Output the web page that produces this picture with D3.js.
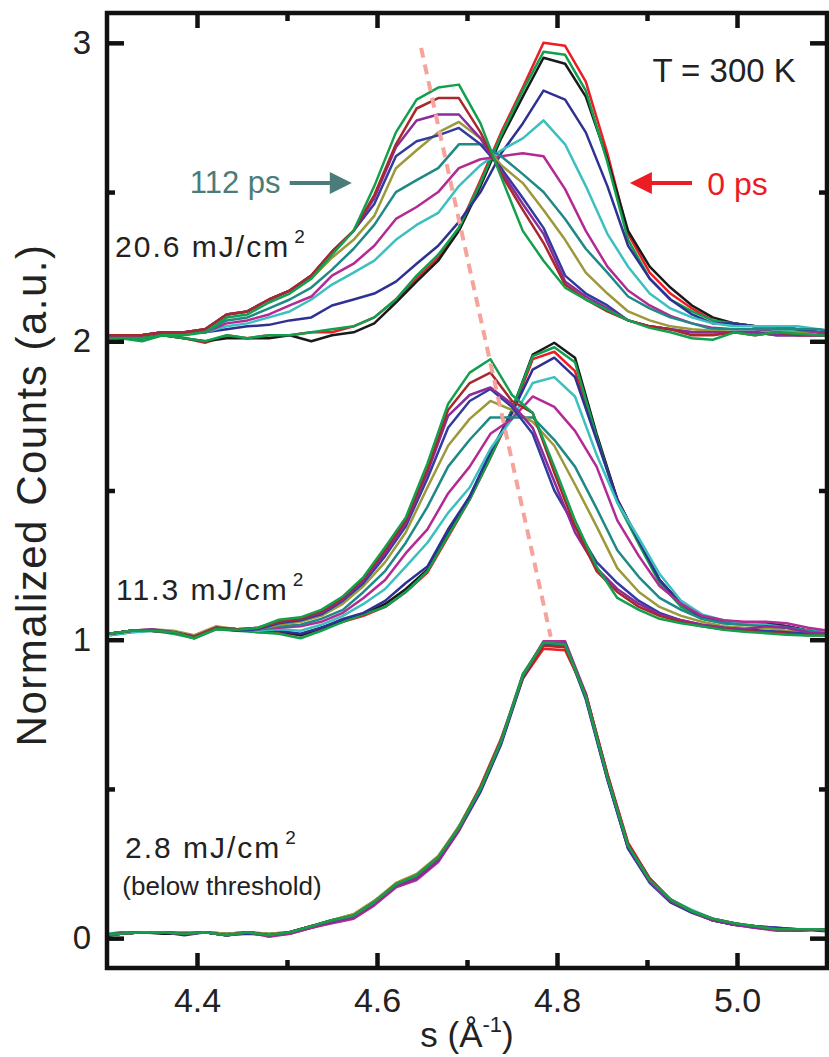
<!DOCTYPE html>
<html>
<head>
<meta charset="utf-8">
<script src="https://cdn.jsdelivr.net/npm/d3@7"></script>
<style>
  body { margin: 0; background: #fff; }
  text { font-family: "Liberation Sans", Arial, sans-serif; fill: #222; }
</style>
</head>
<body>
<div id="chart"></div>
<script>
"use strict";

// == DATA ==
// scattering vector grids (A^-1)
var sHigh = [4.292, 4.315, 4.339, 4.362, 4.386, 4.409, 4.433, 4.456, 4.480, 4.503, 4.527, 4.550, 4.574, 4.597, 4.621, 4.644, 4.668, 4.691,
             4.715, 4.738, 4.762, 4.785, 4.809, 4.832, 4.856, 4.879, 4.903, 4.926, 4.950, 4.973, 4.997, 5.020, 5.044, 5.067, 5.091, 5.114];
var sMid = [4.303, 4.327, 4.350, 4.374, 4.397, 4.421, 4.444, 4.468, 4.491, 4.515, 4.538, 4.562, 4.585, 4.609, 4.632, 4.656, 4.679, 4.703,
            4.726, 4.750, 4.773, 4.797, 4.820, 4.844, 4.867, 4.891, 4.914, 4.938, 4.961, 4.985, 5.008, 5.032, 5.055, 5.079, 5.102];
var sLow = sHigh;

// one colour per delay, 0 ps first, 112 ps last
var lineColors = ["#ee1c25", "#1a1a1a", "#0f9f4f", "#2e3192", "#3cbfbf", "#b22a92",
                  "#1f8986", "#9d983a", "#323c9e", "#8c2b9c", "#a8282c", "#12a04c"];

// 20.6 mJ/cm2, offset +2
var high = [
  [2.02, 2.01, 2.01, 2.02, 2.01, 1.995, 2.02, 2.01, 2.02, 2.02, 2.03, 2.03, 2.05, 2.08, 2.14, 2.21, 2.28, 2.38, 2.54, 2.70, 2.85, 3.00, 2.99, 2.87, 2.63, 2.36, 2.23, 2.16, 2.11, 2.07, 2.06, 2.05, 2.05, 2.04, 2.03, 2.03],
  [2.02, 2.01, 2.01, 2.02, 2.01, 2.00, 2.01, 2.01, 2.01, 2.02, 2.00, 2.02, 2.03, 2.06, 2.13, 2.20, 2.27, 2.37, 2.52, 2.68, 2.82, 2.95, 2.93, 2.82, 2.61, 2.37, 2.25, 2.18, 2.12, 2.08, 2.06, 2.05, 2.05, 2.04, 2.03, 2.03],
  [2.01, 2.01, 2.00, 2.02, 2.01, 2.00, 2.02, 2.01, 2.02, 2.02, 2.03, 2.04, 2.05, 2.08, 2.14, 2.22, 2.29, 2.38, 2.53, 2.69, 2.84, 2.97, 2.96, 2.84, 2.60, 2.34, 2.21, 2.14, 2.10, 2.07, 2.06, 2.05, 2.04, 2.04, 2.03, 2.03],
  [2.02, 2.02, 2.02, 2.03, 2.03, 2.03, 2.04, 2.05, 2.055, 2.07, 2.08, 2.12, 2.14, 2.16, 2.20, 2.26, 2.32, 2.40, 2.50, 2.63, 2.73, 2.84, 2.81, 2.70, 2.52, 2.32, 2.21, 2.14, 2.09, 2.06, 2.06, 2.05, 2.05, 2.04, 2.03, 2.03],
  [2.02, 2.02, 2.02, 2.03, 2.03, 2.03, 2.05, 2.06, 2.08, 2.10, 2.14, 2.19, 2.23, 2.27, 2.34, 2.39, 2.43, 2.52, 2.59, 2.64, 2.68, 2.74, 2.66, 2.52, 2.36, 2.25, 2.16, 2.11, 2.08, 2.06, 2.05, 2.05, 2.05, 2.05, 2.04, 2.03],
  [2.02, 2.02, 2.02, 2.03, 2.03, 2.03, 2.06, 2.07, 2.09, 2.12, 2.15, 2.22, 2.26, 2.32, 2.41, 2.45, 2.50, 2.58, 2.61, 2.62, 2.63, 2.62, 2.51, 2.37, 2.25, 2.17, 2.12, 2.085, 2.06, 2.045, 2.04, 2.04, 2.03, 2.03, 2.03, 2.02],
  [2.02, 2.02, 2.02, 2.03, 2.03, 2.03, 2.07, 2.08, 2.11, 2.14, 2.18, 2.24, 2.31, 2.39, 2.50, 2.54, 2.58, 2.66, 2.66, 2.62, 2.56, 2.50, 2.41, 2.31, 2.23, 2.15, 2.11, 2.08, 2.06, 2.04, 2.04, 2.04, 2.04, 2.04, 2.04, 2.03],
  [2.02, 2.02, 2.02, 2.03, 2.03, 2.04, 2.09, 2.10, 2.14, 2.17, 2.21, 2.28, 2.34, 2.42, 2.58, 2.64, 2.70, 2.735, 2.68, 2.59, 2.53, 2.44, 2.34, 2.23, 2.16, 2.10, 2.07, 2.05, 2.04, 2.035, 2.03, 2.03, 2.03, 2.03, 2.02, 2.02],
  [2.02, 2.02, 2.02, 2.03, 2.03, 2.04, 2.09, 2.10, 2.14, 2.17, 2.22, 2.30, 2.37, 2.46, 2.62, 2.67, 2.69, 2.715, 2.66, 2.58, 2.48, 2.38, 2.22, 2.16, 2.12, 2.07, 2.05, 2.04, 2.03, 2.03, 2.03, 2.03, 2.02, 2.02, 2.02, 2.02],
  [2.02, 2.02, 2.02, 2.03, 2.03, 2.04, 2.09, 2.10, 2.14, 2.17, 2.22, 2.30, 2.37, 2.48, 2.65, 2.74, 2.76, 2.76, 2.68, 2.57, 2.46, 2.36, 2.20, 2.15, 2.11, 2.07, 2.05, 2.04, 2.03, 2.03, 2.03, 2.03, 2.02, 2.02, 2.02, 2.02],
  [2.02, 2.02, 2.02, 2.03, 2.03, 2.04, 2.09, 2.10, 2.14, 2.17, 2.22, 2.30, 2.37, 2.49, 2.66, 2.78, 2.815, 2.815, 2.70, 2.56, 2.44, 2.33, 2.19, 2.14, 2.10, 2.07, 2.05, 2.04, 2.02, 2.02, 2.03, 2.02, 2.03, 2.02, 2.02, 2.02],
  [2.01, 2.01, 2.01, 2.02, 2.02, 2.03, 2.08, 2.09, 2.13, 2.16, 2.21, 2.29, 2.37, 2.52, 2.70, 2.81, 2.85, 2.86, 2.73, 2.55, 2.37, 2.27, 2.18, 2.14, 2.105, 2.07, 2.045, 2.03, 2.01, 2.005, 2.03, 2.02, 2.03, 2.025, 2.02, 2.02]
];

// 11.3 mJ/cm2, offset +1
var mid = [
  [1.02, 1.03, 1.03, 1.025, 1.01, 1.04, 1.035, 1.025, 1.025, 1.015, 1.035, 1.06, 1.08, 1.11, 1.16, 1.225, 1.345, 1.47, 1.61, 1.76, 1.94, 1.965, 1.90, 1.68, 1.47, 1.33, 1.20, 1.12, 1.075, 1.06, 1.055, 1.055, 1.045, 1.03, 1.025],
  [1.02, 1.03, 1.03, 1.025, 1.005, 1.04, 1.035, 1.03, 1.03, 1.015, 1.04, 1.065, 1.085, 1.12, 1.17, 1.235, 1.355, 1.48, 1.62, 1.77, 1.955, 1.995, 1.945, 1.69, 1.47, 1.33, 1.20, 1.12, 1.075, 1.06, 1.055, 1.055, 1.045, 1.03, 1.025],
  [1.015, 1.025, 1.03, 1.02, 1.005, 1.035, 1.03, 1.025, 1.02, 1.005, 1.03, 1.06, 1.085, 1.11, 1.16, 1.23, 1.35, 1.47, 1.61, 1.77, 1.95, 1.98, 1.93, 1.68, 1.46, 1.32, 1.19, 1.11, 1.07, 1.055, 1.05, 1.05, 1.04, 1.03, 1.025],
  [1.02, 1.03, 1.03, 1.025, 1.01, 1.04, 1.035, 1.03, 1.03, 1.02, 1.04, 1.07, 1.09, 1.13, 1.19, 1.245, 1.37, 1.48, 1.63, 1.76, 1.905, 1.945, 1.88, 1.67, 1.47, 1.33, 1.20, 1.12, 1.075, 1.06, 1.055, 1.05, 1.045, 1.03, 1.025],
  [1.015, 1.025, 1.03, 1.025, 1.01, 1.04, 1.035, 1.03, 1.035, 1.03, 1.05, 1.08, 1.12, 1.17, 1.245, 1.325, 1.425, 1.51, 1.64, 1.74, 1.86, 1.88, 1.815, 1.62, 1.46, 1.34, 1.22, 1.13, 1.085, 1.065, 1.055, 1.05, 1.04, 1.03, 1.025],
  [1.02, 1.03, 1.03, 1.025, 1.01, 1.04, 1.035, 1.035, 1.04, 1.045, 1.06, 1.09, 1.14, 1.20, 1.29, 1.37, 1.49, 1.58, 1.69, 1.74, 1.815, 1.78, 1.70, 1.58, 1.40, 1.28, 1.18, 1.12, 1.08, 1.065, 1.06, 1.06, 1.055, 1.04, 1.03],
  [1.02, 1.03, 1.03, 1.025, 1.01, 1.04, 1.035, 1.035, 1.045, 1.05, 1.07, 1.10, 1.16, 1.23, 1.325, 1.445, 1.58, 1.67, 1.745, 1.745, 1.745, 1.67, 1.58, 1.44, 1.30, 1.21, 1.14, 1.10, 1.07, 1.055, 1.05, 1.045, 1.04, 1.03, 1.02],
  [1.02, 1.03, 1.035, 1.03, 1.015, 1.045, 1.035, 1.035, 1.05, 1.06, 1.08, 1.12, 1.18, 1.26, 1.36, 1.51, 1.65, 1.74, 1.80, 1.77, 1.73, 1.65, 1.52, 1.38, 1.24, 1.16, 1.11, 1.08, 1.06, 1.045, 1.04, 1.04, 1.03, 1.025, 1.02],
  [1.02, 1.03, 1.03, 1.025, 1.01, 1.04, 1.03, 1.035, 1.055, 1.065, 1.085, 1.13, 1.19, 1.28, 1.38, 1.54, 1.71, 1.80, 1.84, 1.78, 1.69, 1.50, 1.38, 1.26, 1.19, 1.13, 1.09, 1.065, 1.05, 1.04, 1.035, 1.03, 1.025, 1.02, 1.02],
  [1.02, 1.03, 1.035, 1.025, 1.01, 1.04, 1.035, 1.04, 1.06, 1.07, 1.09, 1.135, 1.20, 1.29, 1.39, 1.56, 1.75, 1.82, 1.845, 1.79, 1.71, 1.53, 1.36, 1.24, 1.17, 1.12, 1.085, 1.065, 1.05, 1.04, 1.035, 1.045, 1.04, 1.025, 1.02],
  [1.02, 1.03, 1.03, 1.025, 1.01, 1.04, 1.035, 1.04, 1.06, 1.07, 1.095, 1.14, 1.205, 1.30, 1.40, 1.57, 1.77, 1.86, 1.895, 1.80, 1.76, 1.56, 1.38, 1.23, 1.16, 1.11, 1.08, 1.06, 1.045, 1.035, 1.03, 1.025, 1.02, 1.015, 1.015],
  [1.02, 1.03, 1.03, 1.025, 1.005, 1.035, 1.033, 1.04, 1.067, 1.075, 1.10, 1.145, 1.21, 1.31, 1.41, 1.59, 1.79, 1.895, 1.94, 1.82, 1.76, 1.58, 1.40, 1.245, 1.14, 1.10, 1.07, 1.055, 1.045, 1.033, 1.027, 1.022, 1.017, 1.014, 1.014]
];

// 2.8 mJ/cm2 (below threshold), no offset
var low = [
  [0.01, 0.015, 0.02, 0.02, 0.02, 0.02, 0.015, 0.02, 0.01, 0.02, 0.035, 0.055, 0.07, 0.12, 0.175, 0.21, 0.27, 0.37, 0.51, 0.67, 0.87, 0.97, 0.965, 0.82, 0.55, 0.32, 0.20, 0.13, 0.09, 0.065, 0.05, 0.035, 0.03, 0.025, 0.03, 0.02],
  [0.005, 0.015, 0.02, 0.015, 0.015, 0.02, 0.01, 0.02, 0.01, 0.02, 0.04, 0.055, 0.075, 0.12, 0.18, 0.205, 0.265, 0.37, 0.50, 0.655, 0.88, 0.985, 0.985, 0.81, 0.535, 0.305, 0.19, 0.125, 0.09, 0.06, 0.045, 0.04, 0.03, 0.03, 0.03, 0.02],
  [0.01, 0.02, 0.02, 0.02, 0.015, 0.02, 0.01, 0.02, 0.015, 0.02, 0.04, 0.06, 0.08, 0.125, 0.18, 0.21, 0.265, 0.375, 0.505, 0.665, 0.885, 0.99, 0.985, 0.81, 0.54, 0.31, 0.195, 0.13, 0.09, 0.06, 0.047, 0.04, 0.03, 0.03, 0.03, 0.025],
  [0.005, 0.015, 0.02, 0.02, 0.01, 0.02, 0.01, 0.015, 0.01, 0.015, 0.035, 0.055, 0.07, 0.115, 0.175, 0.20, 0.26, 0.36, 0.49, 0.65, 0.87, 0.985, 0.985, 0.80, 0.53, 0.30, 0.185, 0.12, 0.085, 0.06, 0.045, 0.04, 0.035, 0.03, 0.025, 0.02],
  [0.01, 0.015, 0.02, 0.02, 0.015, 0.02, 0.01, 0.02, 0.01, 0.02, 0.04, 0.06, 0.075, 0.12, 0.18, 0.21, 0.27, 0.37, 0.50, 0.66, 0.88, 0.99, 0.99, 0.815, 0.545, 0.31, 0.195, 0.13, 0.095, 0.065, 0.05, 0.04, 0.03, 0.03, 0.03, 0.02],
  [0.01, 0.015, 0.02, 0.02, 0.015, 0.02, 0.01, 0.02, 0.005, 0.015, 0.035, 0.05, 0.065, 0.11, 0.17, 0.195, 0.255, 0.36, 0.50, 0.66, 0.88, 0.995, 0.995, 0.82, 0.545, 0.31, 0.19, 0.125, 0.09, 0.06, 0.045, 0.035, 0.025, 0.025, 0.03, 0.02],
  [0.01, 0.015, 0.02, 0.02, 0.015, 0.02, 0.015, 0.02, 0.01, 0.02, 0.04, 0.06, 0.075, 0.12, 0.18, 0.21, 0.265, 0.37, 0.50, 0.66, 0.88, 0.99, 0.99, 0.81, 0.54, 0.31, 0.19, 0.125, 0.09, 0.06, 0.047, 0.04, 0.03, 0.03, 0.03, 0.02],
  [0.01, 0.015, 0.02, 0.02, 0.02, 0.02, 0.015, 0.02, 0.015, 0.02, 0.04, 0.06, 0.08, 0.125, 0.185, 0.215, 0.275, 0.375, 0.505, 0.665, 0.88, 0.99, 0.99, 0.81, 0.54, 0.305, 0.19, 0.125, 0.09, 0.06, 0.047, 0.04, 0.03, 0.03, 0.03, 0.02],
  [0.01, 0.015, 0.02, 0.02, 0.015, 0.02, 0.01, 0.02, 0.01, 0.02, 0.04, 0.055, 0.075, 0.12, 0.18, 0.205, 0.265, 0.365, 0.495, 0.655, 0.875, 0.985, 0.99, 0.805, 0.535, 0.30, 0.19, 0.125, 0.09, 0.06, 0.045, 0.04, 0.035, 0.03, 0.03, 0.02],
  [0.01, 0.015, 0.02, 0.02, 0.015, 0.02, 0.01, 0.02, 0.01, 0.02, 0.04, 0.055, 0.07, 0.115, 0.175, 0.20, 0.26, 0.365, 0.50, 0.66, 0.88, 0.99, 0.99, 0.815, 0.54, 0.31, 0.19, 0.125, 0.09, 0.06, 0.045, 0.035, 0.03, 0.025, 0.03, 0.02],
  [0.01, 0.015, 0.02, 0.02, 0.015, 0.02, 0.01, 0.02, 0.01, 0.02, 0.04, 0.06, 0.075, 0.12, 0.18, 0.21, 0.27, 0.37, 0.505, 0.665, 0.875, 0.98, 0.975, 0.815, 0.55, 0.315, 0.20, 0.13, 0.09, 0.065, 0.05, 0.04, 0.03, 0.03, 0.03, 0.02],
  [0.01, 0.015, 0.02, 0.02, 0.015, 0.02, 0.01, 0.02, 0.01, 0.02, 0.04, 0.06, 0.075, 0.12, 0.18, 0.21, 0.27, 0.37, 0.50, 0.66, 0.88, 0.99, 0.985, 0.81, 0.54, 0.31, 0.195, 0.13, 0.09, 0.065, 0.05, 0.04, 0.03, 0.03, 0.03, 0.025]
];

// guide through the peak positions (dashed)
var guideS = [4.649, 4.793];
var guideV = [2.983, 1.01];

var majorX = [4.4, 4.6, 4.8, 5.0], minorX = [4.5, 4.7, 4.9];
var majorY = [0, 1, 2, 3], minorY = [0.5, 1.5, 2.5];

// == BOILERPLATE ==
var width = 829, height = 1057;
var frame = { left: 107, right: 827, top: 13, bottom: 968 };

var svg = d3.select("#chart")
  .append("svg")
  .attr("width", width)
  .attr("height", height);

var x = d3.scaleLinear().domain([4.3, 5.1]).range([frame.left, frame.right]);
var y = d3.scaleLinear().domain([-0.1, 3.1]).range([frame.bottom, frame.top]);

svg.append("clipPath").attr("id", "plot")
  .append("rect")
  .attr("x", frame.left).attr("y", frame.top)
  .attr("width", frame.right - frame.left)
  .attr("height", frame.bottom - frame.top);

// == CURVES ==
function drawPanel(grid, curves) {
  var line = d3.line()
    .defined(function (d, i) { return grid[i] !== undefined; })
    .x(function (d, i) { return x(grid[i]); })
    .y(function (d) { return y(d); });
  svg.append("g")
    .attr("clip-path", "url(#plot)")
    .selectAll("path")
    .data(curves)
    .enter()
    .append("path")
    .attr("d", line)
    .attr("fill", "none")
    .attr("stroke", function (d, i) { return lineColors[i]; })
    .attr("stroke-width", 2.5)
    .attr("stroke-linejoin", "round");
}
drawPanel(sLow, low);
drawPanel(sMid, mid);
drawPanel(sHigh, high);

// dashed guide
svg.append("path")
  .datum(guideS)
  .attr("d", d3.line().x(function (d) { return x(d); }).y(function (d, i) { return y(guideV[i]); }))
  .attr("fill", "none")
  .attr("stroke", "#f5a39b")
  .attr("stroke-width", 4)
  .attr("stroke-dasharray", "10,7");

// == AXES ==
function styleAxis(g, size) {
  g.select(".domain").remove();
  g.selectAll("line").attr("stroke", "#111").attr("stroke-width", 4.5);
  g.selectAll("text").attr("font-size", size).attr("fill", "#222")
    .attr("font-family", "Liberation Sans, Arial, sans-serif");
}

svg.append("g").attr("transform", "translate(0," + frame.bottom + ")")
  .call(d3.axisBottom(x).tickValues(majorX).tickSize(-15).tickSizeOuter(0).tickPadding(20).tickFormat(d3.format(".1f")))
  .call(styleAxis, 34);
svg.append("g").attr("transform", "translate(0," + frame.bottom + ")")
  .call(d3.axisBottom(x).tickValues(minorX).tickSize(-8).tickSizeOuter(0).tickFormat(""))
  .call(styleAxis, 34);
svg.append("g").attr("transform", "translate(0," + frame.top + ")")
  .call(d3.axisTop(x).tickValues(majorX).tickSize(-15).tickSizeOuter(0).tickFormat(""))
  .call(styleAxis, 34);
svg.append("g").attr("transform", "translate(0," + frame.top + ")")
  .call(d3.axisTop(x).tickValues(minorX).tickSize(-8).tickSizeOuter(0).tickFormat(""))
  .call(styleAxis, 34);

svg.append("g").attr("transform", "translate(" + frame.left + ",0)")
  .call(d3.axisLeft(y).tickValues(majorY).tickSize(-17).tickSizeOuter(0).tickPadding(16).tickFormat(d3.format("d")))
  .call(styleAxis, 33);
svg.append("g").attr("transform", "translate(" + frame.left + ",0)")
  .call(d3.axisLeft(y).tickValues(minorY).tickSize(-8).tickSizeOuter(0).tickFormat(""))
  .call(styleAxis, 33);
svg.append("g").attr("transform", "translate(" + frame.right + ",0)")
  .call(d3.axisRight(y).tickValues(majorY).tickSize(-17).tickSizeOuter(0).tickFormat(""))
  .call(styleAxis, 33);
svg.append("g").attr("transform", "translate(" + frame.right + ",0)")
  .call(d3.axisRight(y).tickValues(minorY).tickSize(-8).tickSizeOuter(0).tickFormat(""))
  .call(styleAxis, 33);

svg.append("rect")
  .attr("x", frame.left).attr("y", frame.top)
  .attr("width", frame.right - frame.left)
  .attr("height", frame.bottom - frame.top)
  .attr("fill", "none")
  .attr("stroke", "#111")
  .attr("stroke-width", 4.5);

// axis titles
svg.append("text")
  .attr("transform", "translate(46,495) rotate(-90)")
  .attr("text-anchor", "middle")
  .attr("font-size", 42)
  .attr("letter-spacing", 1.5)
  .text("Normalized Counts (a.u.)");

var xt = svg.append("text")
  .attr("x", 467).attr("y", 1047)
  .attr("text-anchor", "middle")
  .attr("font-size", 35);
xt.append("tspan").text("s (Å");
xt.append("tspan").attr("dy", -15).attr("font-size", 22).text("-1");
xt.append("tspan").attr("dy", 15).text(")");

// == ANNOTATIONS ==
svg.append("text").attr("x", x(4.906)).attr("y", y(2.87))
  .attr("font-size", 33).text("T = 300 K");

function fluence(s, v, value) {
  var t = svg.append("text").attr("x", x(s)).attr("y", y(v))
    .attr("font-size", 30).attr("letter-spacing", 2);
  t.append("tspan").text(value + " mJ/cm");
  t.append("tspan").attr("dy", -14).attr("dx", 4).attr("font-size", 19).text("2");
}
fluence(4.309, 2.282, "20.6");
fluence(4.310, 1.133, "11.3");
fluence(4.320, 0.269, "2.8");
svg.append("text").attr("x", x(4.317)).attr("y", y(0.145))
  .attr("font-size", 26).text("(below threshold)");

function arrow(sTail, sTip, v, color) {
  var dir = sTip > sTail ? 1 : -1;
  var xt0 = x(sTail), xt1 = x(sTip), yy = y(v);
  svg.append("line")
    .attr("x1", xt0).attr("y1", yy)
    .attr("x2", xt1 - dir * 14).attr("y2", yy)
    .attr("stroke", color).attr("stroke-width", 4);
  svg.append("path")
    .attr("d", "M" + xt1 + "," + yy + "L" + (xt1 - dir * 22) + "," + (yy - 11) +
               "L" + (xt1 - dir * 22) + "," + (yy + 11) + "Z")
    .attr("fill", color);
}
arrow(4.950, 4.881, 2.53, "#ec1c24");
arrow(4.503, 4.572, 2.53, "#4b7c79");

svg.append("text").attr("x", x(4.967)).attr("y", y(2.49))
  .attr("font-size", 32).style("fill", "#ec1c24").text("0 ps");
svg.append("text").attr("x", x(4.392)).attr("y", y(2.497))
  .attr("font-size", 31).style("fill", "#4b7c79").text("112 ps");
</script>
</body>
</html>
